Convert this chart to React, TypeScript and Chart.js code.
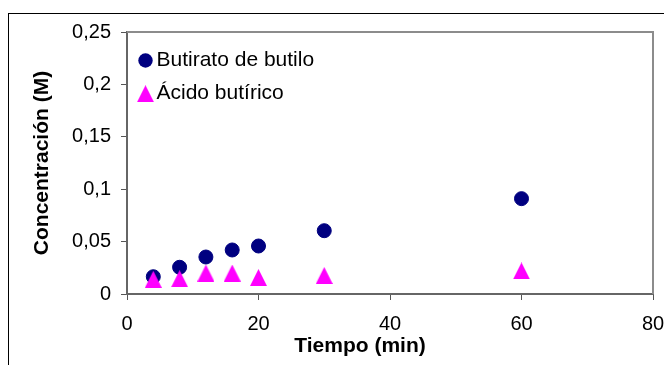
import React, { useEffect, useRef } from 'react';
import { Chart, registerables } from 'chart.js';

Chart.register(...registerables);

// ---- data ----
const timeMin = [4, 8, 12, 16, 20, 30, 60];
const butiratoDeButilo = [0.0165, 0.0255, 0.0353, 0.042, 0.0458, 0.0604, 0.091];
const acidoButirico = [0.014, 0.0146, 0.02, 0.02, 0.0157, 0.0177, 0.022];
const seriesNames = ['Butirato de butilo', 'Ácido butírico'];
const yTickLabels = ['0', '0,05', '0,1', '0,15', '0,2', '0,25'];
const xTickLabels = ['0', '20', '40', '60', '80'];
const xAxisTitle = 'Tiempo (min)';
const yAxisTitle = 'Concentración (M)';

const FONT = "'Liberation Sans', Arial, Helvetica, sans-serif";
const NAVY = '#000080';
const MAGENTA = '#FF00FF';

function makeTriangle(w: number, h: number, color: string): HTMLCanvasElement {
  const c = document.createElement('canvas');
  c.width = w;
  c.height = h;
  const ctx = c.getContext('2d')!;
  ctx.fillStyle = color;
  ctx.beginPath();
  ctx.moveTo(w / 2, 0);
  ctx.lineTo(w, h);
  ctx.lineTo(0, h);
  ctx.closePath();
  ctx.fill();
  return c;
}

export default function App() {
  const ref = useRef<HTMLCanvasElement | null>(null);

  useEffect(() => {
    if (!ref.current) return;
    const tri = makeTriangle(17, 17, MAGENTA);

    const framePlugin = {
      id: 'frame',
      beforeDraw(chart: any) {
        const ctx = chart.ctx;
        ctx.save();
        ctx.fillStyle = '#ffffff';
        ctx.fillRect(0, 0, chart.width, chart.height);
        ctx.strokeStyle = '#000000';
        ctx.lineWidth = 1;
        ctx.strokeRect(8.5, 13.5, 900, 900);
        ctx.restore();
      },
      beforeDatasetsDraw(chart: any) {
        const { ctx, chartArea } = chart;
        ctx.save();
        ctx.strokeStyle = '#8c8c8c';
        ctx.lineWidth = 2;
        ctx.beginPath();
        ctx.moveTo(chartArea.left, chartArea.top);
        ctx.lineTo(chartArea.right, chartArea.top);
        ctx.lineTo(chartArea.right, chartArea.bottom);
        ctx.stroke();
        ctx.restore();
      },
      afterDraw(chart: any) {
        const { ctx, chartArea } = chart;
        ctx.save();
        // legend inside plot area
        const ds = chart.data.datasets;
        ds.forEach((d: any, i: number) => {
          const cx = chartArea.left + 18.5;
          const cy = chartArea.top + 28.5 + i * 33.2;
          if (d.pointStyle === 'circle') {
            ctx.fillStyle = d.backgroundColor;
            ctx.beginPath();
            ctx.arc(cx, cy, 7.2, 0, Math.PI * 2);
            ctx.fill();
          } else {
            const img = d.pointStyle as HTMLCanvasElement;
            ctx.drawImage(img, cx - img.width / 2, cy - img.height / 2);
          }
          ctx.fillStyle = '#000000';
          ctx.font = `21px ${FONT}`;
          ctx.textAlign = 'left';
          ctx.textBaseline = 'middle';
          ctx.fillText(d.label, chartArea.left + 29.5, cy);
        });
        // x axis title
        ctx.font = `bold 21px ${FONT}`;
        ctx.textAlign = 'center';
        ctx.textBaseline = 'middle';
        ctx.fillStyle = '#000000';
        ctx.fillText(xAxisTitle, 360, 346);
        ctx.restore();
      },
    };

    const chart = new Chart(ref.current, {
      type: 'scatter',
      data: {
        datasets: [
          {
            label: seriesNames[0],
            data: timeMin.map((x, i) => ({ x, y: butiratoDeButilo[i] })),
            pointStyle: 'circle',
            backgroundColor: NAVY,
            borderColor: NAVY,
            borderWidth: 1,
            radius: 7,
            order: 1,
          },
          {
            label: seriesNames[1],
            data: timeMin.map((x, i) => ({ x, y: acidoButirico[i] })),
            pointStyle: tri as any,
            backgroundColor: MAGENTA,
            borderColor: MAGENTA,
            radius: 8,
            order: 0,
          },
        ],
      },
      options: {
        animation: false,
        responsive: false,
        devicePixelRatio: 1,
        layout: { padding: { left: 0, top: 32, right: 11, bottom: 0 } },
        plugins: {
          legend: { display: false },
          tooltip: { enabled: false },
        },
        scales: {
          x: {
            type: 'linear',
            min: 0,
            max: 80,
            ticks: {
              stepSize: 20,
              color: '#000000',
              font: { family: FONT, size: 20 },
              padding: 12,
              callback: (_v: any, i: number) => xTickLabels[i],
            },
            grid: {
              drawOnChartArea: false,
              drawTicks: true,
              tickLength: 6,
              color: '#555555',
              lineWidth: 1,
            },
            border: { display: true, color: '#666666', width: 2 },
            title: { display: false },
            afterFit: (scale: any) => {
              scale.height = 71;
              scale.paddingLeft = 0;
              scale.paddingRight = 0;
            },
          },
          y: {
            type: 'linear',
            min: 0,
            max: 0.25,
            ticks: {
              stepSize: 0.05,
              color: '#000000',
              font: { family: FONT, size: 20 },
              padding: 10,
              callback: (_v: any, i: number) => yTickLabels[i],
            },
            grid: {
              drawOnChartArea: false,
              drawTicks: true,
              tickLength: 6,
              color: '#555555',
              lineWidth: 1,
            },
            border: { display: true, color: '#666666', width: 2 },
            title: {
              display: true,
              text: yAxisTitle,
              color: '#000000',
              font: { family: FONT, size: 21, weight: 'bold' },
              padding: { top: 29.4, bottom: 0 },
            },
            afterFit: (scale: any) => {
              scale.width = 127;
              scale.paddingTop = 0;
              scale.paddingBottom = 0;
            },
          },
        },
      },
      plugins: [framePlugin],
    } as any);

    return () => chart.destroy();
  }, []);

  return (
    <canvas
      ref={ref}
      width={664}
      height={365}
      style={{ position: 'fixed', left: 0, top: 0, width: 664, height: 365 }}
    />
  );
}
